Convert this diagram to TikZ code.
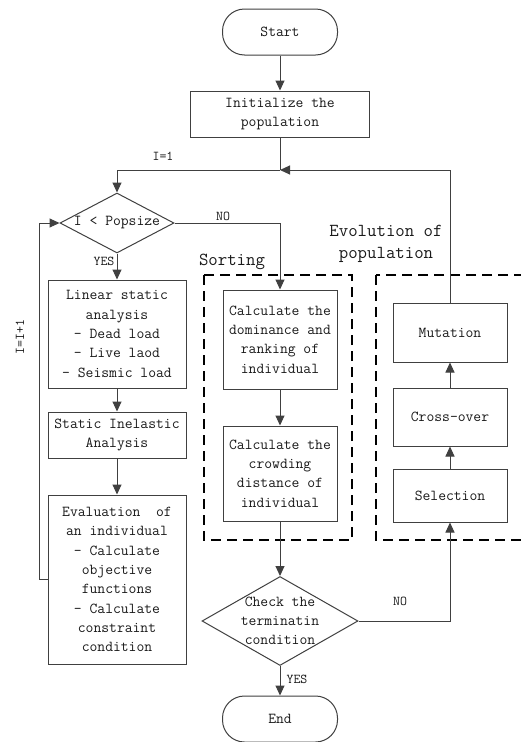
\documentclass[tikz,border=0pt]{standalone}
\usepackage{fontspec}
\usetikzlibrary{arrows.meta,shapes.geometric}
\definecolor{linec}{HTML}{404040}
\definecolor{txtc}{HTML}{1a1a1a}
\newcommand{\boxfont}{\ttfamily\fontsize{15.2}{19.3}\selectfont}
\newcommand{\lblfont}{\ttfamily\fontsize{13.5}{14}\selectfont}
\newcommand{\bigfont}{\ttfamily\fontsize{18.3}{22}\selectfont}
\begin{document}
\begin{tikzpicture}[x=1pt,y=-1pt,
  every node/.style={text=txtc},
  stepbox/.style={draw=linec, line width=1pt, align=center, inner sep=0pt, font=\boxfont},
  term/.style={draw=linec, line width=1pt, rounded corners=22pt, align=center, inner sep=0pt, font=\boxfont, minimum width=115, minimum height=46},
  decision/.style={draw=linec, line width=1pt, diamond, inner sep=0pt},
  conn/.style={draw=linec, line width=1pt},
  arr/.style={conn, -{Triangle[length=10pt,width=9pt]}},
  lbl/.style={font=\lblfont, inner sep=0pt},
  group/.style={draw=black, line width=1.6pt, dash pattern=on 10pt off 6pt},
]
\fill[white] (0,0) rectangle (521,742);
\clip (0,0) rectangle (521,742);

% dashed groups
\draw[group] (204,275) rectangle (352,540);
\draw[group] (376,275) rectangle (545,540);
\node[font=\bigfont, inner sep=0pt] (sortlbl) at (232,262) {Sorting};
\node[font=\bigfont, inner sep=0pt, align=center] (evollbl) at (386,244) {Evolution of\\population};

% nodes
\node[term] (start) at (280,32) {Start};
\node[stepbox, minimum width=179, minimum height=46] (init) at (280,114) {Initialize the\\population};
\coordinate (j) at (280,170);
\node[decision, minimum width=114, minimum height=60, label={[font=\boxfont, inner sep=0pt]center:I < Popsize}] (d1) at (117,223) {};
\node[stepbox, minimum width=138, minimum height=108] (lin) at (117,334) {Linear static\\analysis\\- Dead load\\- Live laod\\- Seismic load};
\node[stepbox, minimum width=138, minimum height=46] (sia) at (117,435) {Static Inelastic\\Analysis};
\node[stepbox, minimum width=138, minimum height=169] (eval) at (117,579.5) {Evaluation~~of\\an individual\\- Calculate\\objective\\functions\\- Calculate\\constraint\\condition};
\node[stepbox, minimum width=114, minimum height=99] (calc1) at (280,339.5) {Calculate the\\dominance and\\ranking of\\individual};
\node[stepbox, minimum width=114, minimum height=95] (calc2) at (280,473.5) {Calculate the\\crowding\\distance of\\individual};
\node[stepbox, minimum width=114, minimum height=59] (mut) at (450,332.5) {Mutation};
\node[stepbox, minimum width=114, minimum height=58] (cross) at (450,417) {Cross-over};
\node[stepbox, minimum width=114, minimum height=53] (sel) at (450,495.5) {Selection};
\node[decision, minimum width=156, minimum height=89, label={[font=\boxfont, inner sep=0pt, align=center]center:Check the\\terminatin\\condition}] (check) at (280,621) {};
\node[term] (end) at (280,719) {End};

% connectors
\draw[arr] (start) -- (init);
\draw[conn] (init) -- (j);
\draw[arr] (j) -- (117,170) -- (d1.north);
\draw[arr] (mut.north) -- (450,170) -- (j);
\draw[arr] (d1.east) -- (280,223) -- (calc1.north);
\draw[arr] (d1.south) -- (lin.north);
\draw[arr] (lin) -- (sia);
\draw[arr] (sia) -- (eval);
\draw[arr] (eval.west) -- (39,579.5) -- (39,223) -- (d1.west);
\draw[arr] (calc1) -- (calc2);
\draw[arr] (calc2) -- (check.north);
\draw[arr] (check.east) -- (450,621) -- (sel.south);
\draw[arr] (sel) -- (cross);
\draw[arr] (cross) -- (mut);
\draw[arr] (check.south) -- (end.north);

% labels
\node[lbl] (l1) at (163,156) {I=1};
\node[lbl] (lno1) at (223,216) {NO};
\node[lbl] (lyes1) at (104,261) {YES};
\node[lbl, rotate=90] (linc) at (20,337) {I=I+1};
\node[lbl] (lno2) at (400,601) {NO};
\node[lbl] (lyes2) at (297,679) {YES};
\end{tikzpicture}
\end{document}
